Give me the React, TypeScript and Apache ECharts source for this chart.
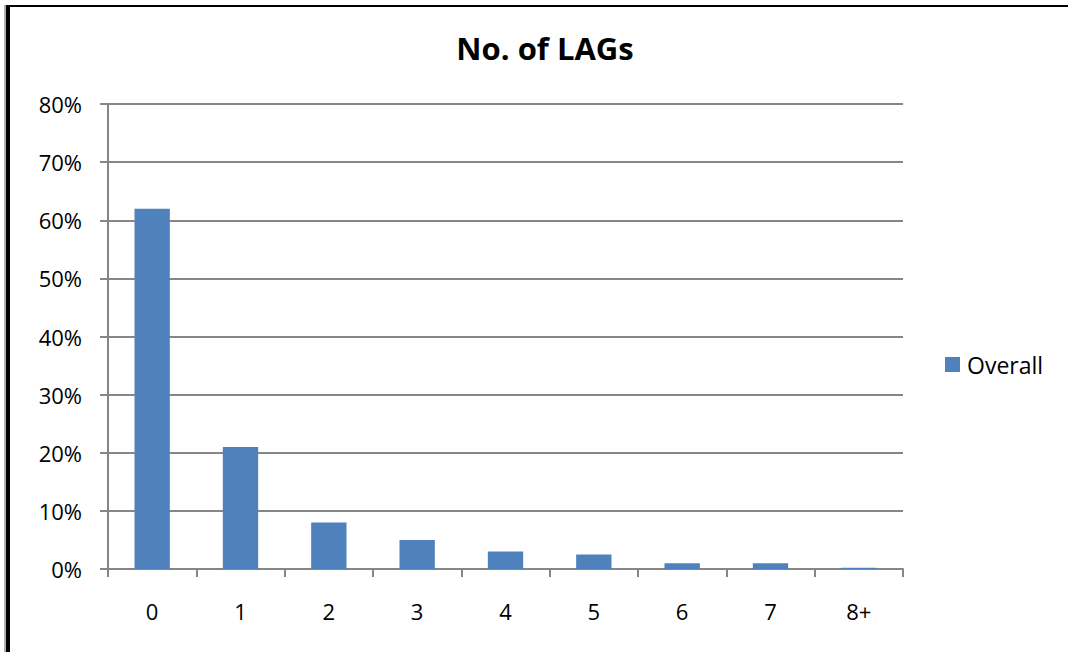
import React, { useEffect, useRef } from "react";
import * as echarts from "echarts";

const categories = ["0", "1", "2", "3", "4", "5", "6", "7", "8+"];
const overallValues = [62, 21, 8, 5, 3, 2.5, 1, 1, 0.2];
const yTicks = { min: 0, max: 80, interval: 10 };
const titleText = "No. of LAGs";
const seriesName = "Overall";

const FONT = "'Open Sans', 'Noto Sans', sans-serif";
const GRAY = "#868686";

export default function App() {
  const ref = useRef<HTMLDivElement>(null);
  useEffect(() => {
    if (!ref.current) return;
    const chart = echarts.init(ref.current, undefined, { renderer: "svg" });
    chart.setOption({
      animation: false,
      backgroundColor: "#ffffff",
      title: {
        text: titleText,
        left: 540,
        textAlign: "center",
        top: 27,
        textStyle: { fontFamily: FONT, fontSize: 31, fontWeight: "bold", color: "#000" },
      },
      legend: {
        data: [seriesName],
        left: 940,
        top: 348,
        itemWidth: 15,
        itemHeight: 15,
        icon: "rect",
        itemGap: 6,
        textStyle: { fontFamily: FONT, fontSize: 23, color: "#000", padding: [0, 0, 0, 2] },
      },
      grid: { left: 108, right: 165, top: 104, bottom: 83, containLabel: false },
      xAxis: {
        type: "category",
        data: categories,
        boundaryGap: true,
        axisLine: { show: true, lineStyle: { color: GRAY, width: 2 } },
        axisTick: { show: true, length: 8, alignWithLabel: false, lineStyle: { color: GRAY, width: 2 } },
        axisLabel: { fontFamily: FONT, fontSize: 22, color: "#000", margin: 31 },
      },
      yAxis: {
        type: "value",
        min: yTicks.min,
        max: yTicks.max,
        interval: yTicks.interval,
        axisLine: { show: true, lineStyle: { color: GRAY, width: 2 } },
        axisTick: { show: true, length: 8, lineStyle: { color: GRAY, width: 2 } },
        splitLine: { show: true, lineStyle: { color: GRAY, width: 2 } },
        axisLabel: {
          fontFamily: FONT,
          fontSize: 22,
          color: "#000",
          margin: 26,
          formatter: "{value}%",
        },
      },
      series: [
        {
          name: seriesName,
          type: "bar",
          data: overallValues,
          barWidth: "40%",
          itemStyle: { color: "#4F81BD" },
        },
      ],
      graphic: [
        { type: "rect", shape: { x: 4, y: 5, width: 2, height: 660 }, style: { fill: "#b0b0b0" }, z: 100 },
        { type: "rect", shape: { x: 6, y: 5, width: 4, height: 660 }, style: { fill: "#000" }, z: 100 },
        { type: "rect", shape: { x: 6, y: 5, width: 1070, height: 2 }, style: { fill: "#000" }, z: 100 },
      ],
    });
    return () => chart.dispose();
  }, []);
  return (
    <div
      ref={ref}
      style={{ position: "fixed", left: 0, top: 0, width: 1068, height: 652 }}
    />
  );
}
